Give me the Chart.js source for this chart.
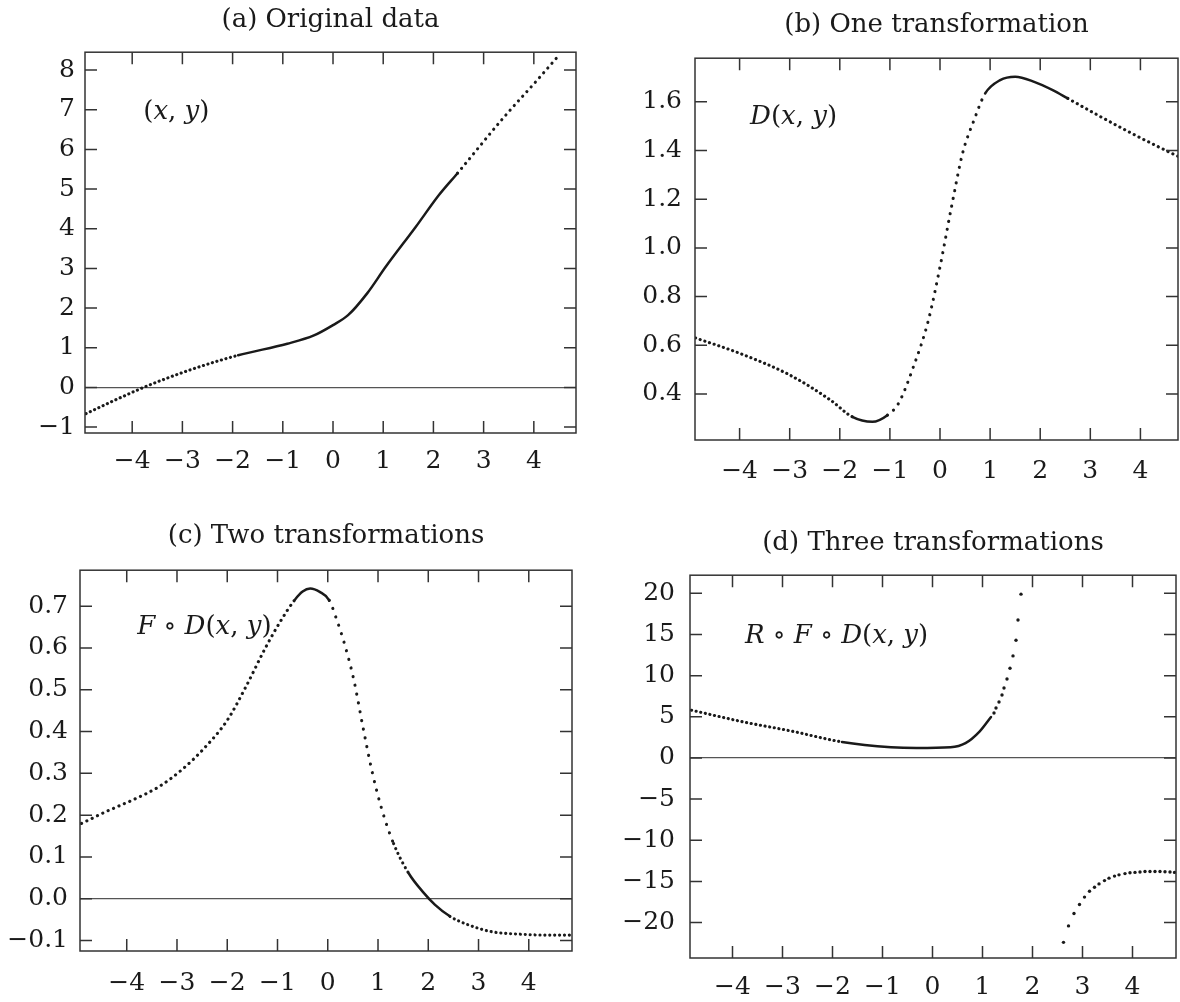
<!DOCTYPE html>
<html>
<head>
<meta charset="utf-8">
<title>Transformaciones</title>
<script src="https://cdn.jsdelivr.net/npm/chart.js@4.4.1/dist/chart.umd.min.js"></script>
<style>
  body { margin: 0; background: #fff; overflow: hidden; }
  #contenedor { position: relative; width: 1180px; height: 1002px; }
  canvas { position: absolute; }
</style>
</head>
<body>
<div id="contenedor">
  <canvas id="grafA" width="590" height="500" style="left:0;top:0"></canvas>
  <canvas id="grafB" width="590" height="500" style="left:590px;top:0"></canvas>
  <canvas id="grafC" width="590" height="502" style="left:0;top:500px"></canvas>
  <canvas id="grafD" width="590" height="502" style="left:590px;top:500px"></canvas>
</div>
<script>
// marcas de los ejes
const ticksX = [-4, -3, -2, -1, 0, 1, 2, 3, 4];
const ticksYA = [-1, 0, 1, 2, 3, 4, 5, 6, 7, 8];
const ticksYB = [0.4, 0.6, 0.8, 1.0, 1.2, 1.4, 1.6];
const ticksYC = [-0.1, 0.0, 0.1, 0.2, 0.3, 0.4, 0.5, 0.6, 0.7];
const ticksYD = [-20, -15, -10, -5, 0, 5, 10, 15, 20];

// (a) datos originales
const aX = [-4.92, -3.77, -2.87, -1.89, -0.91, -0.38, 0.0, 0.30, 0.68, 1.05, 1.65, 2.11, 2.48, 3.39, 4.07, 4.52];
const aY = [-0.66, 0.0, 0.43, 0.81, 1.10, 1.31, 1.57, 1.82, 2.37, 3.04, 4.05, 4.85, 5.40, 6.79, 7.75, 8.40];

// (b) una transformacion
const bX = [-4.88, -4.0, -3.0, -2.18, -1.75, -1.35, -1.05, -0.83, -0.53, -0.23, 0.0, 0.23, 0.45, 0.68, 0.90, 1.20, 1.50, 1.88, 2.25, 2.55, 3.15, 3.83, 4.36, 4.75];
const bY = [0.630, 0.567, 0.478, 0.374, 0.306, 0.286, 0.313, 0.361, 0.512, 0.704, 0.922, 1.169, 1.388, 1.525, 1.634, 1.689, 1.703, 1.682, 1.648, 1.614, 1.545, 1.470, 1.415, 1.376];

// (c) dos transformaciones
const cX = [-4.90, -4.42, -3.89, -3.36, -2.91, -2.46, -2.00, -1.63, -1.25, -0.95, -0.65, -0.50, -0.35, -0.16, 0.03, 0.18, 0.33, 0.52, 0.70, 0.89, 1.08, 1.31, 1.61, 1.91, 2.13, 2.43, 2.81, 3.27, 3.87, 4.32, 4.86];
const cY = [0.180, 0.208, 0.236, 0.268, 0.308, 0.360, 0.427, 0.507, 0.598, 0.662, 0.716, 0.735, 0.742, 0.734, 0.714, 0.667, 0.611, 0.523, 0.411, 0.300, 0.212, 0.132, 0.061, 0.014, -0.014, -0.042, -0.063, -0.079, -0.085, -0.087, -0.087];

// (d) tres transformaciones: rama superior, subida y rama inferior
const dX = [-4.82, -3.76, -2.85, -1.81, -0.83, -0.32, 0.36, 0.66, 0.94, 1.17];
const dY = [5.8, 4.35, 3.3, 1.95, 1.3, 1.2, 1.3, 1.8, 3.2, 4.98];
const dSubeX = [1.23, 1.27, 1.33, 1.39, 1.43, 1.49, 1.55, 1.61, 1.67, 1.71, 1.77];
const dSubeY = [5.46, 6.07, 6.8, 7.65, 8.5, 9.6, 10.9, 12.4, 14.3, 16.75, 19.9];
const dBajaX = [2.62, 2.72, 2.83, 2.94, 3.04, 3.14, 3.24, 3.33, 3.44, 3.53, 3.64, 3.73, 3.85, 3.95, 4.05, 4.15, 4.25, 4.35, 4.45, 4.55, 4.65, 4.75, 4.84];
const dBajaY = [-22.4, -20.4, -18.9, -17.8, -16.9, -16.2, -15.7, -15.3, -14.9, -14.6, -14.35, -14.2, -14.05, -13.95, -13.9, -13.85, -13.8, -13.8, -13.8, -13.8, -13.82, -13.85, -13.9];

const FUENTE = '"DejaVu Serif", serif';
const TINTA = '#1a1a1a';

function puntos(xs, ys) {
  return xs.map((x, i) => ({ x: x, y: ys[i] }));
}

function menos(v, dec) {
  let s = Math.abs(v).toFixed(dec);
  return v < 0 ? '\u2212' + s : s;
}

// punteado o continuo segun el tramo de x
function tramoDe(xs, tramos, ctx) {
  let xm = (xs[ctx.p0DataIndex] + xs[ctx.p1DataIndex]) / 2;
  for (let t of tramos) {
    if (xm <= t[0]) return t[1];
  }
  return [];
}

function curva(xs, ys, tramos) {
  return {
    data: puntos(xs, ys),
    showLine: true,
    pointRadius: 0,
    borderColor: TINTA,
    borderWidth: 2.5,
    borderCapStyle: 'round',
    cubicInterpolationMode: 'monotone',
    segment: {
      borderDash: ctx => tramoDe(xs, tramos, ctx),
      borderWidth: ctx => tramoDe(xs, tramos, ctx).length ? 3.1 : 2.5
    }
  };
}

function nube(xs, ys) {
  return {
    data: puntos(xs, ys),
    showLine: false,
    pointRadius: 1.7,
    pointBorderWidth: 0,
    pointBackgroundColor: TINTA
  };
}

// caja con marcas hacia dentro en los cuatro lados
const marco = {
  id: 'marco',
  afterDatasetsDraw(chart) {
    const ctx = chart.ctx;
    const a = chart.chartArea;
    const sx = chart.scales.x, sy = chart.scales.y;
    ctx.save();
    ctx.strokeStyle = '#333';
    ctx.lineWidth = 1.5;
    ctx.strokeRect(a.left, a.top, a.right - a.left, a.bottom - a.top);
    ctx.beginPath();
    sx.ticks.forEach(t => {
      let px = sx.getPixelForValue(t.value);
      ctx.moveTo(px, a.bottom); ctx.lineTo(px, a.bottom - 12);
      ctx.moveTo(px, a.top); ctx.lineTo(px, a.top + 12);
    });
    sy.ticks.forEach(t => {
      let py = sy.getPixelForValue(t.value);
      ctx.moveTo(a.left, py); ctx.lineTo(a.left + 12, py);
      ctx.moveTo(a.right, py); ctx.lineTo(a.right - 12, py);
    });
    ctx.stroke();
    ctx.restore();
  }
};

// rotulo dentro del grafico (letras en cursiva)
function rotulo(x, y, partes) {
  return {
    id: 'rotulo',
    afterDatasetsDraw(chart) {
      const ctx = chart.ctx;
      let px = chart.scales.x.getPixelForValue(x);
      let py = chart.scales.y.getPixelForValue(y);
      ctx.save();
      ctx.fillStyle = TINTA;
      ctx.textBaseline = 'middle';
      ctx.textAlign = 'left';
      partes.forEach(p => {
        ctx.font = (p[1] ? 'italic ' : '') + '26px ' + FUENTE;
        ctx.fillText(p[0], px, py);
        px += ctx.measureText(p[0]).width;
      });
      ctx.restore();
    }
  };
}

function crear_grafico(canva, cfg) {
  let ctx = document.getElementById(canva).getContext('2d');
  return new Chart(ctx, {
    type: 'scatter',
    data: { datasets: cfg.series },
    options: {
      responsive: false,
      animation: false,
      events: [],
      layout: { padding: { left: 0, right: cfg.derecha, top: 0, bottom: 0 } },
      plugins: {
        legend: { display: false },
        tooltip: { enabled: false },
        title: {
          display: true,
          text: cfg.titulo,
          fullSize: false,
          color: TINTA,
          font: { family: FUENTE, size: 26, weight: 'normal' },
          padding: cfg.padTitulo
        }
      },
      scales: {
        x: {
          type: 'linear',
          min: cfg.xMin,
          max: cfg.xMax,
          afterBuildTicks: s => { s.ticks = ticksX.map(v => ({ value: v })); },
          afterFit: s => { s.height = cfg.altoX; },
          grid: { display: false, drawTicks: false },
          border: { display: false },
          ticks: {
            padding: cfg.padX,
            color: TINTA,
            autoSkip: false,
            maxRotation: 0,
            font: { family: FUENTE, size: 25 },
            callback: v => menos(v, 0)
          }
        },
        y: {
          type: 'linear',
          min: cfg.yMin,
          max: cfg.yMax,
          afterBuildTicks: s => { s.ticks = cfg.ticksY.map(v => ({ value: v })); },
          afterFit: s => { s.width = cfg.anchoY; },
          grid: {
            drawTicks: false,
            lineWidth: 1.2,
            color: c => (c.tick && c.tick.value === 0) ? '#555' : 'rgba(0,0,0,0)'
          },
          border: { display: false },
          ticks: {
            padding: cfg.padY,
            color: TINTA,
            autoSkip: false,
            font: { family: FUENTE, size: 25 },
            callback: v => menos(v, cfg.dec)
          }
        }
      }
    },
    plugins: [marco, rotulo(cfg.rotulo[0], cfg.rotulo[1], cfg.rotulo[2])]
  });
}

crear_grafico('grafA', {
  titulo: '(a) Original data',
  padTitulo: { top: 5, bottom: 16 },
  derecha: 14, anchoY: 85, altoX: 67, padX: 13, padY: 10,
  xMin: -4.94, xMax: 4.84, yMin: -1.15, yMax: 8.45,
  ticksY: ticksYA, dec: 0,
  series: [curva(aX, aY, [[-1.95, [0.1, 4.6]], [2.5, []], [99, [0.1, 6.2]]])],
  rotulo: [-3.78, 6.94, [['(', 0], ['x', 1], [', ', 0], ['y', 1], [')', 0]]]
});

crear_grafico('grafB', {
  titulo: '(b) One transformation',
  padTitulo: { top: 10, bottom: 17 },
  derecha: 2, anchoY: 105, altoX: 60, padX: 16, padY: 13,
  xMin: -4.89, xMax: 4.75, yMin: 0.211, yMax: 1.779,
  ticksY: ticksYB, dec: 1,
  series: [curva(bX, bY, [[-1.95, [0.1, 4.8]], [-1.0, []], [0.95, [0.1, 7.8]], [2.55, []], [99, [0.1, 5.3]]])],
  rotulo: [-3.79, 1.537, [['D', 1], ['(', 0], ['x', 1], [', ', 0], ['y', 1], [')', 0]]]
});

crear_grafico('grafC', {
  titulo: '(c) Two transformations',
  padTitulo: { top: 21, bottom: 18 },
  derecha: 18, anchoY: 80, altoX: 51, padX: 17, padY: 12,
  xMin: -4.93, xMax: 4.86, yMin: -0.125, yMax: 0.786,
  ticksY: ticksYC, dec: 1,
  series: [curva(cX, cY, [[-0.6, [0.1, 5.8]], [0.08, []], [1.2, [0.1, 8.8]], [1.75, [0.1, 5.2]], [2.45, []], [99, [0.1, 4.8]]])],
  rotulo: [-3.79, 0.650, [['F', 1], [' \u2218 ', 0], ['D', 1], ['(', 0], ['x', 1], [', ', 0], ['y', 1], [')', 0]]]
});

crear_grafico('grafD', {
  titulo: '(d) Three transformations',
  padTitulo: { top: 28, bottom: 16 },
  derecha: 3, anchoY: 100, altoX: 44, padX: 14, padY: 15,
  xMin: -4.85, xMax: 4.87, yMin: -24.3, yMax: 22.2,
  ticksY: ticksYD, dec: 0,
  series: [
    curva(dX, dY, [[-1.8, [0.1, 4.6]], [99, []]]),
    nube(dSubeX, dSubeY),
    nube(dBajaX, dBajaY)
  ],
  rotulo: [-3.75, 14.8, [['R', 1], [' \u2218 ', 0], ['F', 1], [' \u2218 ', 0], ['D', 1], ['(', 0], ['x', 1], [', ', 0], ['y', 1], [')', 0]]]
});
</script>
</body>
</html>
